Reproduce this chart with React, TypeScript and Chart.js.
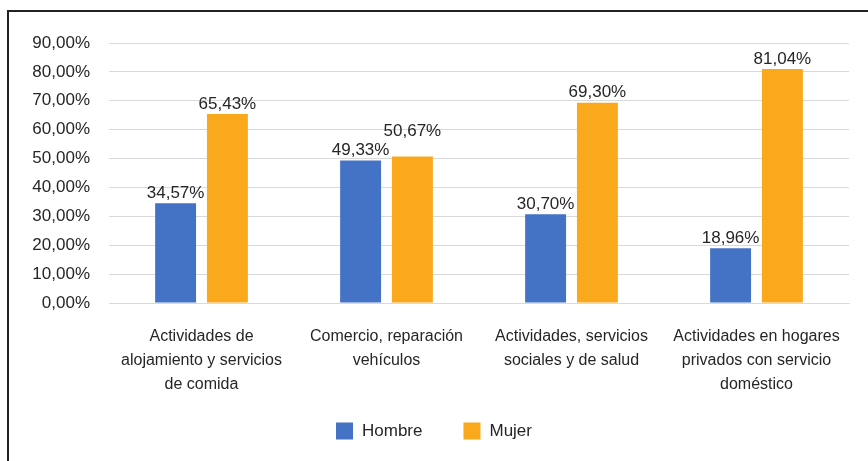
import React, { useEffect, useRef } from "react";
import { Chart, registerables } from "chart.js";

Chart.register(...registerables);

const categories: string[][] = [
  ["Actividades de", "alojamiento y servicios", "de comida"],
  ["Comercio, reparación", "vehículos"],
  ["Actividades, servicios", "sociales y de salud"],
  ["Actividades en hogares", "privados con servicio", "doméstico"],
];
const hombre: number[] = [34.57, 49.33, 30.7, 18.96];
const mujer: number[] = [65.43, 50.67, 69.3, 81.04];
const seriesNames: string[] = ["Hombre", "Mujer"];
const seriesColors: string[] = ["#4472C4", "#FAA81C"];
const yMax = 90;
const yStep = 10;

const FONT = "'Liberation Sans', Arial, sans-serif";
const TEXT = "#262626";

const fmt = (v: number) => v.toFixed(2).replace(".", ",") + "%";

// Value labels above bars, lifting a label that would collide with its neighbour
const valueLabels = {
  id: "valueLabels",
  afterDatasetsDraw(chart: any) {
    const ctx = chart.ctx;
    ctx.save();
    ctx.font = `17px ${FONT}`;
    ctx.fillStyle = TEXT;
    ctx.textAlign = "center";
    ctx.textBaseline = "middle";
    const n = chart.data.labels.length;
    for (let j = 0; j < n; j++) {
      const placed: { l: number; r: number; y: number }[] = [];
      chart.data.datasets.forEach((ds: any, i: number) => {
        const el = chart.getDatasetMeta(i).data[j];
        const txt = fmt(ds.data[j]);
        const w = ctx.measureText(txt).width;
        let y = el.y - 10;
        for (const p of placed) {
          const hOverlap = el.x - w / 2 < p.r && el.x + w / 2 > p.l;
          if (hOverlap && Math.abs(y - p.y) < 19) y = p.y - 19;
        }
        placed.push({ l: el.x - w / 2, r: el.x + w / 2, y });
        ctx.fillText(txt, el.x, y);
      });
    }
    ctx.restore();
  },
};

// Bottom legend drawn on the canvas
const bottomLegend = {
  id: "bottomLegend",
  afterDraw(chart: any) {
    const ctx = chart.ctx;
    ctx.save();
    ctx.font = `17px ${FONT}`;
    ctx.textBaseline = "middle";
    ctx.textAlign = "left";
    const box = 17;
    const gapText = 9;
    const gapItem = 41;
    const items = chart.data.datasets.map((ds: any) => ({
      text: ds.label,
      color: ds.backgroundColor,
      w: box + gapText + ctx.measureText(ds.label).width,
    }));
    const total = items.reduce((a: number, it: any) => a + it.w, 0) + gapItem * (items.length - 1);
    let x = (chart.width - total) / 2;
    const cy = 431;
    items.forEach((it: any) => {
      ctx.fillStyle = it.color;
      ctx.fillRect(x, cy - box / 2, box, box);
      ctx.fillStyle = TEXT;
      ctx.fillText(it.text, x + box + gapText, cy);
      x += it.w + gapItem;
    });
    ctx.restore();
  },
};

export default function App() {
  const ref = useRef<HTMLCanvasElement>(null);
  useEffect(() => {
    if (!ref.current) return;
    const chart = new Chart(ref.current, {
      type: "bar",
      data: {
        labels: categories,
        datasets: [
          {
            label: seriesNames[0],
            data: hombre,
            backgroundColor: seriesColors[0],
            barPercentage: 0.79,
            categoryPercentage: 0.56,
          },
          {
            label: seriesNames[1],
            data: mujer,
            backgroundColor: seriesColors[1],
            barPercentage: 0.79,
            categoryPercentage: 0.56,
          },
        ],
      },
      options: {
        responsive: false,
        animation: false,
        devicePixelRatio: 1,
        layout: { padding: { top: 43, right: 19, bottom: 0, left: 0 } },
        plugins: {
          legend: { display: false },
          tooltip: { enabled: false },
        },
        scales: {
          x: {
            grid: { display: false, drawTicks: false },
            border: { color: "#d9d9d9", width: 1 },
            ticks: {
              color: TEXT,
              font: { family: FONT, size: 16, lineHeight: 1.5 },
              padding: 22,
              maxRotation: 0,
              autoSkip: false,
            },
            afterFit: (s: any) => {
              s.height = 158;
            },
          },
          y: {
            min: 0,
            max: yMax,
            grid: { color: "#d9d9d9", drawTicks: false },
            border: { display: false },
            ticks: {
              stepSize: yStep,
              color: TEXT,
              font: { family: FONT, size: 17 },
              padding: 19,
              callback: (v: any) => fmt(Number(v)),
            },
            afterFit: (s: any) => {
              s.width = 109;
            },
          },
        },
      },
      plugins: [valueLabels, bottomLegend],
    });
    return () => chart.destroy();
  }, []);

  return (
    <div
      style={{
        position: "fixed",
        left: 0,
        top: 0,
        width: 868,
        height: 461,
        overflow: "hidden",
        background: "#fff",
      }}
    >
      <canvas
        ref={ref}
        width={868}
        height={461}
        style={{ position: "absolute", left: 0, top: 0, width: 868, height: 461 }}
      />
      <div
        style={{
          position: "absolute",
          left: 7,
          top: 10,
          width: 900,
          height: 500,
          border: "2px solid #222",
          boxSizing: "border-box",
          pointerEvents: "none",
        }}
      />
    </div>
  );
}
